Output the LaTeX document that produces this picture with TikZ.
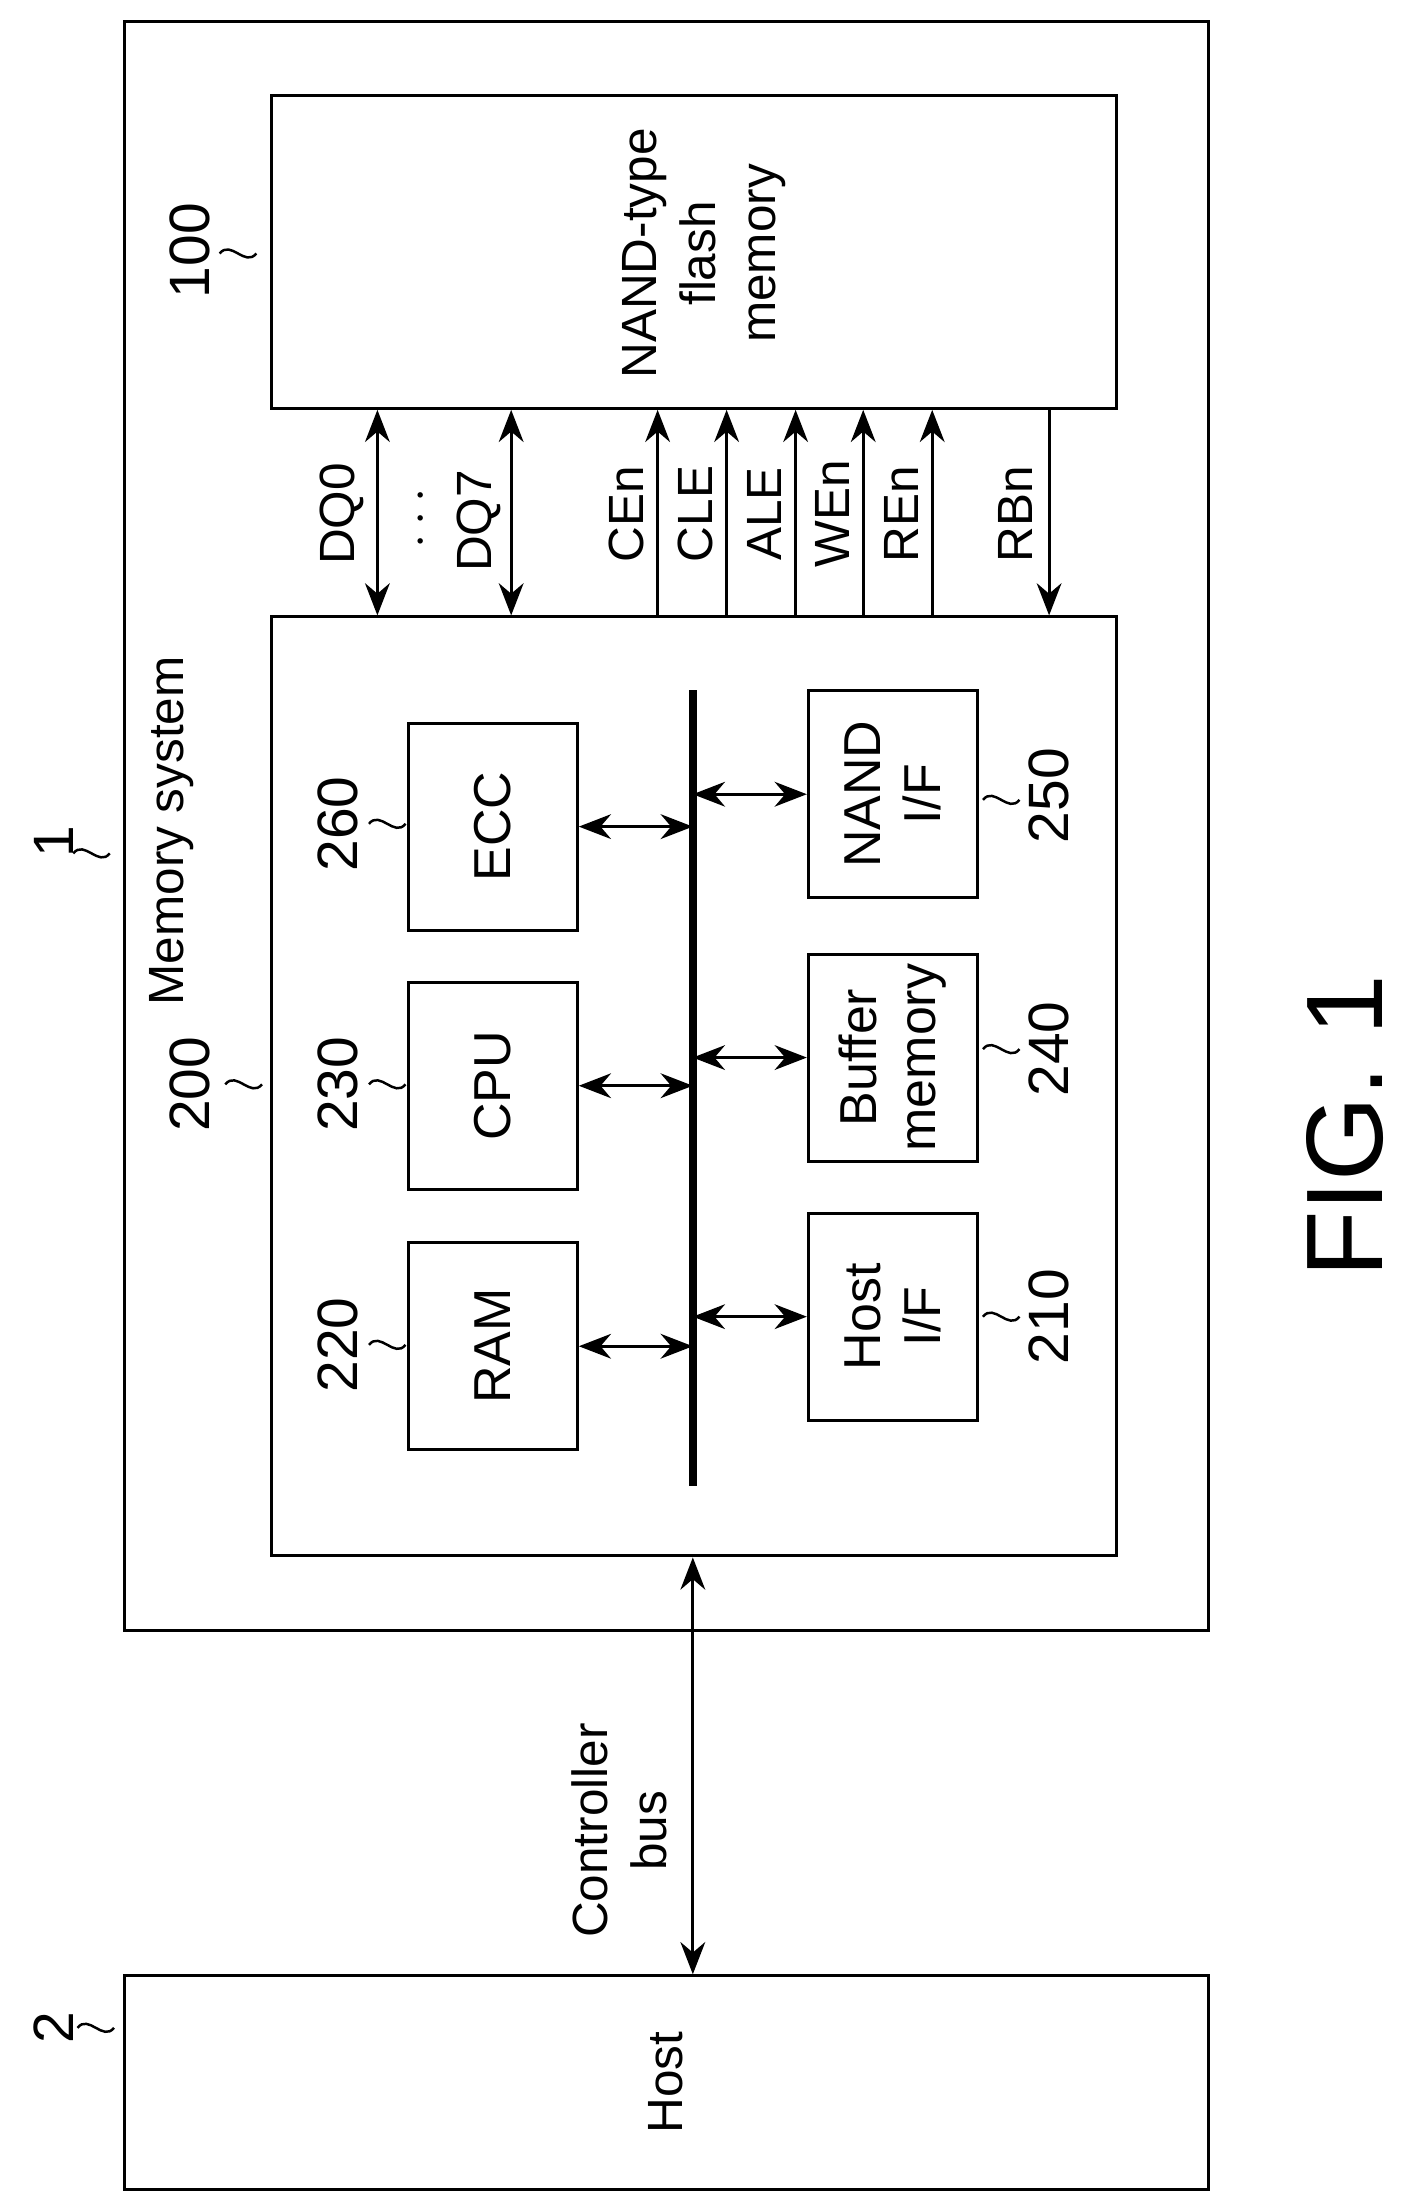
\documentclass[tikz,border=0pt]{standalone}
\usepackage{fontspec}
\setmainfont{Liberation Sans}
\usetikzlibrary{arrows.meta}
\tikzset{blk/.style={shape=rectangle,draw=black,line width=1.2pt,
                     minimum width=2.94cm,minimum height=2.4cm,
                     rotate=90,align=center,font=\fontsize{21}{24}\selectfont},
         lbl/.style={rotate=90,align=center,font=\fontsize{20}{24}\selectfont},
         num/.style={rotate=90,font=\fontsize{23}{26}\selectfont},
         bi/.style={{Stealth[length=13pt,width=10pt]}-{Stealth[length=13pt,width=10pt]},line width=1.3pt},
         uni/.style={-{Stealth[length=13pt,width=10pt]},line width=1.3pt}}
\newcommand{\tld}[2]{\draw[line width=1pt] (#1,#2) .. controls +(8,-10) and +(-8,10) .. +(26,0);}
\begin{document}
\begin{tikzpicture}[x=0.02cm,y=-0.02cm]
\useasboundingbox (0,0) rectangle (1000,1563);

% outer boxes
\node[draw,line width=1.2pt,minimum width=15.4cm,minimum height=22.86cm] (msys) at (473,586.5) {};
\node[draw,line width=1.2pt,minimum width=12cm,minimum height=4.44cm] (nand) at (493,179) {};
\node[draw,line width=1.2pt,minimum width=12cm,minimum height=13.34cm] (ctrl) at (493,771.5) {};
\node[draw,line width=1.2pt,minimum width=15.4cm,minimum height=3.04cm] (host) at (473,1479) {};
\node[lbl] at (500,180) {NAND-type\\flash\\memory};
\node[lbl] at (122,590) {Memory system};
\node[lbl] at (473,1479) {Host};

% internal blocks
\node[blk] (ecc) at (350,587) {ECC};
\node[blk] (cpu) at (350,771) {CPU};
\node[blk] (ram) at (350,956) {RAM};
\node[blk] (nif) at (634,564) {NAND\\I/F};
\node[blk] (buf) at (634,751) {Buffer\\memory};
\node[blk] (hif) at (634,935) {Host\\I/F};

% bus
\coordinate (bt) at (492,490);
\coordinate (bb) at (492,1055);
\draw[line width=3pt] (bt) -- (bb);
\foreach \n/\y in {ecc/587,cpu/771,ram/956}
  \draw[bi] (\n.south) -- (492,\y);
\foreach \n/\y in {nif/564,buf/751,hif/935}
  \draw[bi] (492,\y) -- (\n.north);

% flash interface
\foreach \x/\t in {268/DQ0,363/DQ7}{
  \coordinate (s\t) at (\x,0);
  \draw[bi] (ctrl.north -| s\t) -- (nand.south -| s\t);
}
\node[lbl] at (243,365) {DQ0};
\node[lbl] at (340,370) {DQ7};
\node[lbl] at (300,368) {$\cdots$};
\foreach \x/\t in {467/CEn,516/CLE,565/ALE,613/WEn,662/REn}{
  \coordinate (s\t) at (\x,0);
  \draw[uni] (ctrl.north -| s\t) -- (nand.south -| s\t);
  \node[lbl] at (\x-22,365) {\t};
}
\coordinate (sRBn) at (745,0);
\draw[uni] (nand.south -| sRBn) -- (ctrl.north -| sRBn);
\node[lbl] at (721,365) {RBn};

% controller bus
\coordinate (sCB) at (492,0);
\draw[bi] (ctrl.south -| sCB) -- (host.north -| sCB);
\node[lbl] at (440,1300) {Controller\\bus};

% reference numbers
\node[num] at (38,598) {1};      \tld{52}{606}
\node[num] at (135,178) {100};   \tld{156}{180}
\node[num] at (135,770) {200};   \tld{160}{770}
\node[num] at (38,1440) {2};     \tld{55}{1440}
\node[num] at (240,585) {260};   \tld{262}{585}
\node[num] at (240,770) {230};   \tld{262}{770}
\node[num] at (240,955) {220};   \tld{262}{955}
\node[num] at (745,565) {250};   \tld{698}{568}
\node[num] at (745,745) {240};   \tld{698}{745}
\node[num] at (745,935) {210};   \tld{698}{935}

\node[rotate=90,font=\fontsize{44}{48}\selectfont] at (955,800) {FIG. 1};
\end{tikzpicture}
\end{document}
